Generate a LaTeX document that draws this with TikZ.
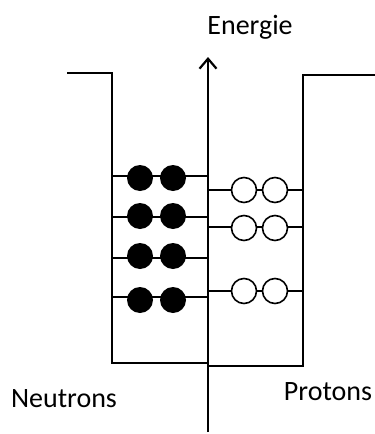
\documentclass[tikz,border=0pt]{standalone}
\usepackage{fontspec}
\setmainfont{Carlito}
\usetikzlibrary{arrows.meta}
\begin{document}
\begin{tikzpicture}[x=1pt,y=-1pt,
  wall/.style={line width=1.9pt},
  level/.style={line width=1.5pt},
  neutron/.style={circle,fill=black,minimum size=26pt,inner sep=0pt},
  proton/.style={circle,draw=black,line width=1.6pt,fill=white,minimum size=25pt,inner sep=0pt},
  lbl/.style={font=\fontsize{28}{33}\selectfont,inner sep=0pt}]
\useasboundingbox (0,0) rectangle (375,434);

% potential wells
\draw[wall] (67,73) -- (112,73) -- (112,363) -- (208,363);
\draw[wall] (375,75) -- (303,75) -- (303,366) -- (208,366);

% neutron levels (left well)
\foreach \y in {176,217,258,297} {
  \draw[level] (112,\y) -- (208,\y);
}
\foreach \y [count=\i] in {178,216,256,300} {
  \node[neutron] (na\i) at (140,\y) {};
  \node[neutron] (nb\i) at (173,\y) {};
}

% proton levels (right well)
\foreach \y in {190,227,291} {
  \draw[level] (208,\y) -- (303,\y);
}
\foreach \y [count=\i] in {190,228,291} {
  \node[proton] (pa\i) at (244,\y) {};
  \node[proton] (pb\i) at (275,\y) {};
}

% energy axis
\coordinate (axbot) at (208,432);
\node[lbl] (energie) at (250,27) {Energie};
\coordinate (axtop) at (208,57);
\draw[line width=2.6pt,-{Straight Barb[length=10pt,width=17pt,line width=2.2pt]}] (axbot) -- (axtop);

\node[lbl] (neutrons) at (64,399) {Neutrons};
\node[lbl] (protons) at (328,392) {Protons};
\end{tikzpicture}
\end{document}
